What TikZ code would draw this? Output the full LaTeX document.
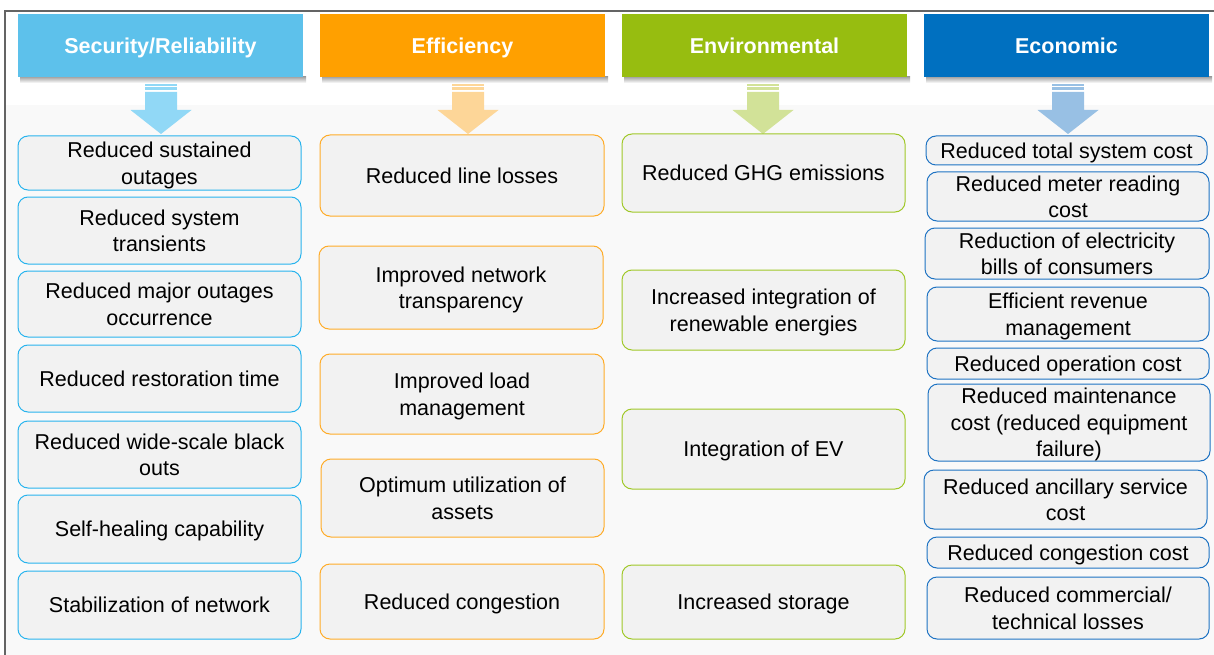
\documentclass[tikz,border=0pt]{standalone}
\usepackage{fontspec}
\setmainfont{Liberation Sans}
\usepackage{tikz}
\usetikzlibrary{positioning}
\definecolor{secblue}{RGB}{93,193,235}
\definecolor{effamber}{RGB}{255,160,0}
\definecolor{envgreen}{RGB}{151,189,16}
\definecolor{ecoblue}{RGB}{0,112,192}
\definecolor{secline}{RGB}{41,180,238}
\definecolor{effline}{RGB}{255,172,40}
\definecolor{envline}{RGB}{160,200,40}
\definecolor{ecoline}{RGB}{30,115,195}
\definecolor{secarrow}{RGB}{145,216,246}
\definecolor{effarrow}{RGB}{253,214,152}
\definecolor{envarrow}{RGB}{210,226,152}
\definecolor{ecoarrow}{RGB}{152,192,228}
\definecolor{cellfill}{RGB}{242,242,242}
\definecolor{bggray}{RGB}{249,249,249}
\definecolor{framegray}{RGB}{100,100,100}
\newcommand\headfont{\fontsize{21.5}{26}\bfseries\selectfont}
\newcommand\cellfont{\fontsize{21.5}{26.5}\selectfont}
\tikzset{
  hdr/.style={rectangle, minimum width=285pt, minimum height=63pt,
    inner sep=0pt, font=\headfont, text=white, text height=15.5pt, text depth=0pt},
  cell/.style={rectangle, fill=cellfill, rounded corners=10pt,
    align=center, inner sep=0pt, font=\cellfont, line width=1pt, text depth=0pt},
  seccell/.style={cell, draw=secline},
  effcell/.style={cell, draw=effline},
  envcell/.style={cell, draw=envline},
  ecocell/.style={cell, draw=ecoline}
}
\begin{document}
\begin{tikzpicture}[x=1pt,y=-1pt]
  \useasboundingbox (0,0) rectangle (1214,655);
  % frame and lower panel
  \fill[bggray] (5,105) rectangle (1214,655);
  \draw[framegray, line width=1.5pt] (5,655) -- (5,11) -- (1214,11);

  % header shadows
  \foreach \hx in {18,320,622,924}
    \shade[top color=black!35, bottom color=white] (\hx+2,77) rectangle (\hx+288,83);

  % headers
  \node[hdr, fill=secblue] (sec) at (160.5,45.5) {Security/Reliability};
  \node[hdr, fill=effamber] (eff) at (462.5,45.5) {Efficiency};
  \node[hdr, fill=envgreen] (env) at (764.5,45.5) {Environmental};
  \node[hdr, fill=ecoblue] (eco) at (1066.5,45.5) {Economic};

  % down arrows
  \foreach \cx/\ac in {161/secarrow, 468/effarrow, 763/envarrow, 1068/ecoarrow} {
    \fill[\ac] (\cx-16,84) rectangle (\cx+16,86);
    \fill[\ac] (\cx-16,87.5) rectangle (\cx+16,90);
    \fill[\ac] (\cx-16,92) -- (\cx+16,92) -- (\cx+16,110) -- (\cx+30.5,110)
      -- (\cx,134) -- (\cx-30.5,110) -- (\cx-16,110) -- cycle;
  }

  % Security/Reliability column
  \node[seccell, minimum width=283pt, minimum height=54pt] (sec1) at (159.5,163) {Reduced sustained\\outages};
  \node[seccell, minimum width=283pt, minimum height=67pt] (sec2) at (159.5,230.5) {Reduced system\\transients};
  \node[seccell, minimum width=283pt, minimum height=66pt] (sec3) at (159.5,304) {Reduced major outages\\occurrence};
  \node[seccell, minimum width=283pt, minimum height=67pt] (sec4) at (159.5,378.5) {Reduced restoration time};
  \node[seccell, minimum width=283pt, minimum height=67pt] (sec5) at (159.5,454.5) {Reduced wide-scale black\\outs};
  \node[seccell, minimum width=283pt, minimum height=68pt] (sec6) at (159.5,529) {Self-healing capability};
  \node[seccell, minimum width=283pt, minimum height=68pt] (sec7) at (159.5,605) {Stabilization of network};

  % Efficiency column
  \node[effcell, minimum width=284pt, minimum height=81pt] (eff1) at (462,175.5) {Reduced line losses};
  \node[effcell, minimum width=284pt, minimum height=83pt] (eff2) at (461,287.5) {Improved network\\transparency};
  \node[effcell, minimum width=284pt, minimum height=80pt] (eff3) at (462,394) {Improved load\\management};
  \node[effcell, minimum width=283pt, minimum height=78pt] (eff4) at (462.5,498) {Optimum utilization of\\assets};
  \node[effcell, minimum width=284pt, minimum height=75pt] (eff5) at (462,601.5) {Reduced congestion};

  % Environmental column
  \node[envcell, minimum width=283pt, minimum height=78pt] (env1) at (763.5,173) {Reduced GHG emissions};
  \node[envcell, minimum width=283pt, minimum height=80pt] (env2) at (763.5,310) {Increased integration of\\renewable energies};
  \node[envcell, minimum width=283pt, minimum height=80pt] (env3) at (763.5,449) {Integration of EV};
  \node[envcell, minimum width=283pt, minimum height=74pt] (env4) at (763.5,602) {Increased storage};

  % Economic column
  \node[ecocell, minimum width=281pt, minimum height=29pt] (eco1) at (1066.5,150.5) {Reduced total system cost};
  \node[ecocell, minimum width=282pt, minimum height=49pt] (eco2) at (1068,196.5) {Reduced meter reading\\cost};
  \node[ecocell, minimum width=284pt, minimum height=51pt] (eco3) at (1067,253.5) {Reduction of electricity\\bills of consumers};
  \node[ecocell, minimum width=282pt, minimum height=54pt] (eco4) at (1068,314) {Efficient revenue\\management};
  \node[ecocell, minimum width=282pt, minimum height=31pt] (eco5) at (1068,363.5) {Reduced operation cost};
  \node[ecocell, minimum width=282pt, minimum height=77pt] (eco6) at (1069,422.5) {Reduced maintenance\\cost (reduced equipment\\failure)};
  \node[ecocell, minimum width=283pt, minimum height=59pt] (eco7) at (1065.5,499.5) {Reduced ancillary service\\cost};
  \node[ecocell, minimum width=282pt, minimum height=31pt] (eco8) at (1068,552.5) {Reduced congestion cost};
  \node[ecocell, minimum width=282pt, minimum height=62pt] (eco9) at (1068,608) {Reduced commercial/\\technical losses};
\end{tikzpicture}
\end{document}
